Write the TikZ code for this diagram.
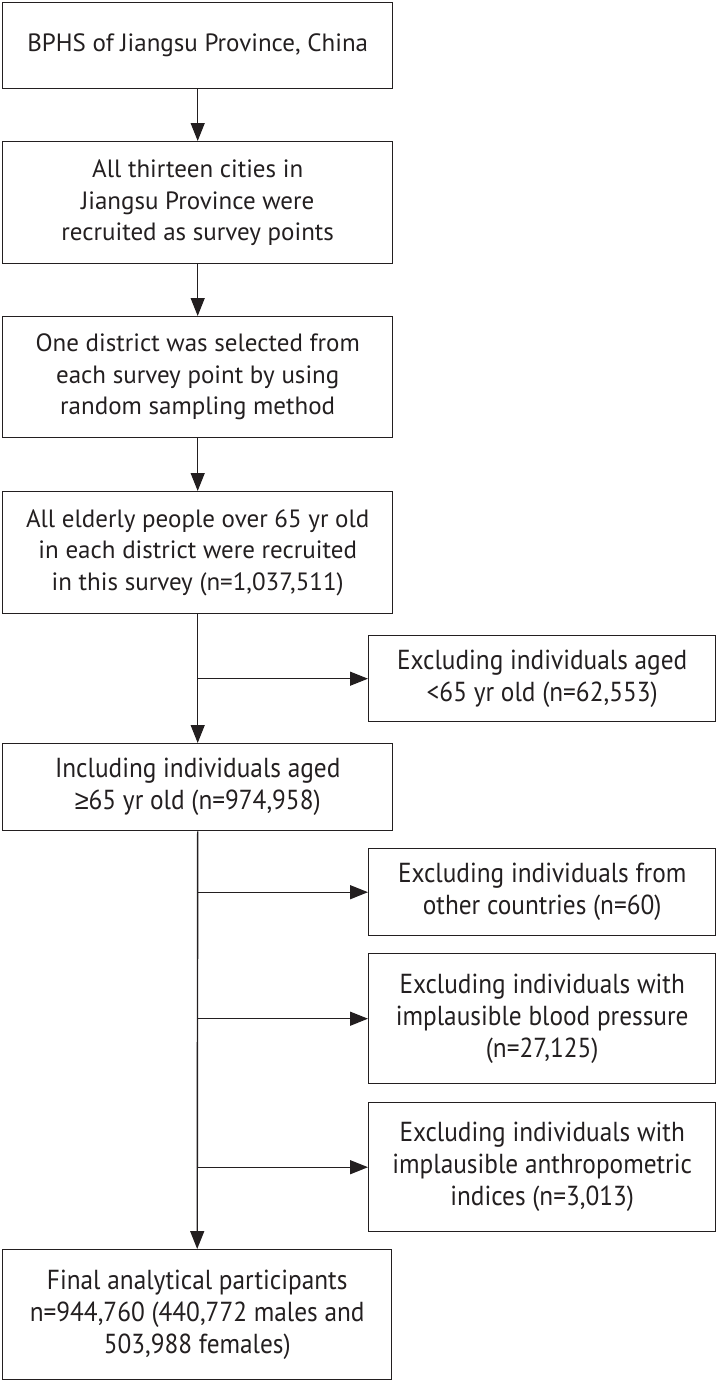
\documentclass[tikz,border=0pt]{standalone}
\usepackage{fontspec}
\setmainfont{PT Sans}
\newfontfamily\condf[FakeStretch=0.92]{PT Sans}
\newfontfamily\symf[FakeStretch=0.92]{Liberation Sans}
\usetikzlibrary{arrows.meta}
\definecolor{ink}{HTML}{231F20}
\tikzset{
  box/.style={draw=ink, line width=1.4pt, inner sep=0pt, align=center, text=ink,
    anchor=north west, font=\fontsize{25}{31.5}\selectfont},
  cbox/.style={box, font=\condf\fontsize{27.5}{32}\selectfont},
  flow/.style={draw=ink, line width=1.4pt, -{Triangle[length=18pt,width=14pt]}},
  plain/.style={draw=ink, line width=1.4pt}
}
\begin{document}
\begin{tikzpicture}[x=1pt,y=-1pt]
\useasboundingbox (0,0) rectangle (718,1381);
\node[box, minimum width=390pt, minimum height=86pt] (b1) at (2,2) {BPHS of Jiangsu Province, China};
\node[box, minimum width=390pt, minimum height=122pt] (b2) at (2,141) {All thirteen cities in\\Jiangsu Province were\\recruited as survey points};
\node[box, minimum width=390pt, minimum height=121pt] (b3) at (2,316) {One district was selected from\\each survey point by using\\random sampling method};
\node[box, minimum width=390pt, minimum height=122pt] (b4) at (2,491) {All elderly people over 65 yr old\\in each district were recruited\\in this survey (n=1,037,511)};
\node[cbox, minimum width=347pt, minimum height=86pt] (r1) at (368,635) {Excluding individuals aged\\<65 yr old (n=62,553)};
\node[cbox, minimum width=390pt, minimum height=87pt] (b5) at (2,743) {Including individuals aged\\{\symf ≥}65 yr old (n=974,958)};
\node[cbox, minimum width=347pt, minimum height=87pt] (r2) at (368,848) {Excluding individuals from\\other countries (n=60)};
\node[cbox, minimum width=347pt, minimum height=130pt] (r3) at (368,953) {Excluding individuals with\\implausible blood pressure\\(n=27,125)};
\node[cbox, minimum width=347pt, minimum height=129pt] (r4) at (368,1102) {Excluding individuals with\\implausible anthropometric\\indices (n=3,013)};
\node[cbox, minimum width=389pt, minimum height=130pt] (b6) at (2,1249) {Final analytical participants\\n=944,760 (440,772 males and\\503,988 females)};
\draw[flow] (b1.south) -- (b2.north);
\draw[flow] (b2.south) -- (b3.north);
\draw[flow] (b3.south) -- (b4.north);
\draw[flow] (b4.south) -- (b5.north);
\draw[flow] (b4.south |- r1.west) -- (r1.west);
\draw[flow] (b5.south) -- (b6.north);
\draw[flow] (b5.south |- r2.west) -- (r2.west);
\draw[flow] (b5.south |- r3.west) -- (r3.west);
\draw[flow] (b5.south |- r4.west) -- (r4.west);
\end{tikzpicture}
\end{document}
